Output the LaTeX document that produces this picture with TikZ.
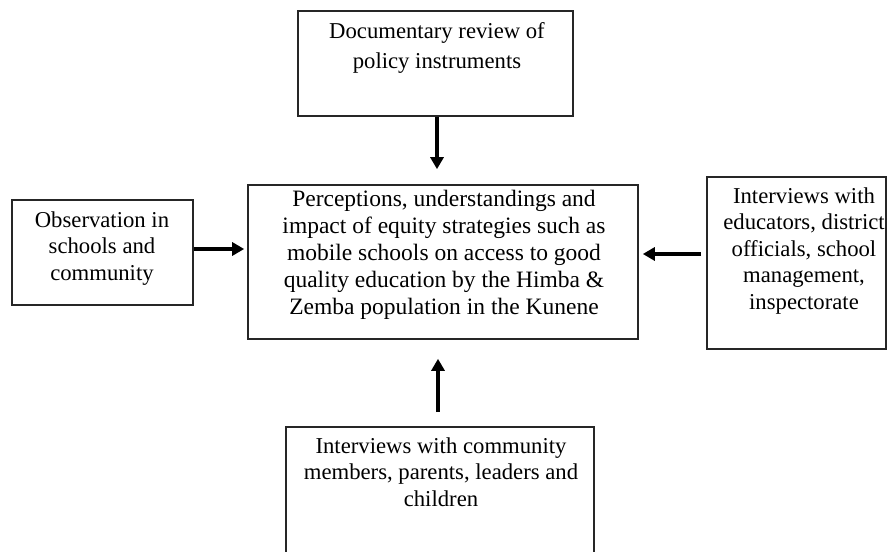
\documentclass[tikz,border=0pt]{standalone}
\usepackage{fontspec}
\setmainfont{Liberation Serif}
\usetikzlibrary{arrows.meta}
\tikzset{
  box/.style={draw=black!85, line width=1.6pt, inner sep=0pt},
  txt/.style={align=center, inner sep=0pt, anchor=north, font=\fontsize{22.7}{26.5}\selectfont},
  ctxt/.style={align=center, inner sep=0pt, anchor=north, font=\fontsize{23.5}{27}\selectfont},
  arr/.style={line width=3.1pt, -{Triangle[length=12pt,width=13pt]}}
}
\begin{document}
\begin{tikzpicture}[x=1pt,y=1pt]
\useasboundingbox (0,0) rectangle (888,551);
% boxes
\node[box, minimum width=275pt, minimum height=105pt] (topbox) at (435.5,487.5) {};
\node[box, minimum width=181pt, minimum height=105pt] (leftbox) at (102.5,298.5) {};
\node[box, minimum width=390pt, minimum height=154pt] (centerbox) at (443,289) {};
\node[box, minimum width=179pt, minimum height=172pt] (rightbox) at (796.5,288) {};
\node[box, minimum width=308pt, minimum height=160pt] (bottombox) at (440,44) {};
% texts
\node[txt, font=\fontsize{22.7}{30}\selectfont] (toptext) at (437,533.7) {\strut Documentary review of\\policy instruments};
\node[txt] (lefttext) at (102,342.5) {\strut Observation in\\schools and\\community};
\node[ctxt] (centertext) at (444,363.9) {\strut Perceptions, understandings and\\impact of equity strategies such as\\mobile schools on access to good\\quality education by the Himba \&\\Zemba population in the Kunene};
\node[txt] (righttext) at (804,366.5) {\strut Interviews with\\educators, district\\officials, school\\management,\\inspectorate};
\node[txt] (bottomtext) at (441,116.5) {\strut Interviews with community\\members, parents, leaders and\\children};
% arrows
\draw[arr, shorten >=15pt] ([xshift=1.5pt]topbox.south) -- ([xshift=1.5pt]topbox.south |- centerbox.north);
\draw[arr, shorten >=3pt] ([yshift=3.5pt]leftbox.east) -- ([yshift=3.5pt]leftbox.east -| centerbox.west);
\draw[arr, shorten <=5pt, shorten >=4pt] ([yshift=9pt]rightbox.west) -- ([yshift=9pt]rightbox.west -| centerbox.east);
\draw[arr, shorten <=14pt, shorten >=19pt] ([xshift=-2pt]bottombox.north) -- ([xshift=-2pt]bottombox.north |- centerbox.south);
\end{tikzpicture}
\end{document}
